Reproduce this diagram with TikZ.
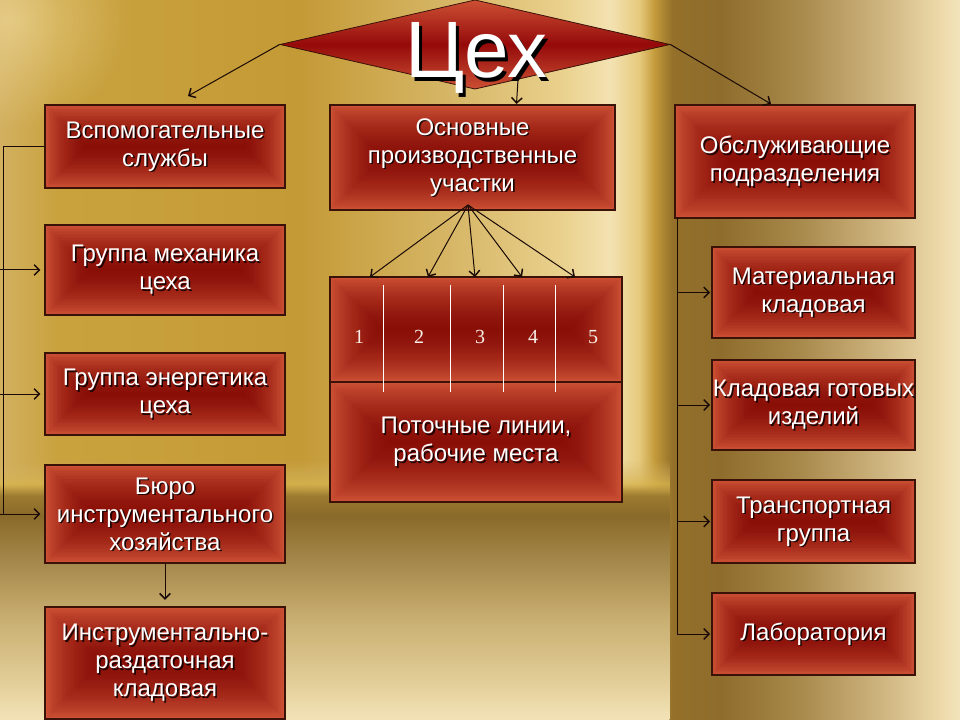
\documentclass[tikz,border=0pt]{standalone}
\usepackage{fontspec}
\setmainfont{Liberation Sans}
\newfontfamily\serifnum{Liberation Serif}
\usetikzlibrary{arrows.meta,fit,fadings,shapes.geometric,calc}

\definecolor{h0}{HTML}{D2B060}
\definecolor{h1}{HTML}{C9A23E}
\definecolor{h2}{HTML}{C49A36}
\definecolor{h3}{HTML}{D6B666}
\definecolor{h4}{HTML}{E9D08C}
\definecolor{h5}{HTML}{F3E2B2}
\definecolor{h6}{HTML}{E6C97C}
\definecolor{h7}{HTML}{C39A3A}
\definecolor{h8}{HTML}{94702A}
\definecolor{h9}{HTML}{8E6C2C}
\definecolor{h10}{HTML}{A88A4C}
\definecolor{h11}{HTML}{CDB37E}
\definecolor{h12}{HTML}{EDDAAA}
\definecolor{h13}{HTML}{F3E4BC}
\definecolor{v0}{HTML}{F2E3B8}
\definecolor{v1}{HTML}{E6D29E}
\definecolor{v2}{HTML}{C8AE70}
\definecolor{v3}{HTML}{A28548}
\definecolor{v4}{HTML}{8A6A2A}
\definecolor{v5}{HTML}{9C7A30}
\definecolor{v6}{HTML}{D8B550}
\definecolor{v7}{HTML}{D4B462}
\definecolor{boxedge}{HTML}{CC5034}
\definecolor{boxdark}{HTML}{7A0000}
\definecolor{diadark}{HTML}{950A0A}
\definecolor{boxline}{HTML}{3A1208}
\definecolor{conncol}{HTML}{1A0A05}
\definecolor{glow}{HTML}{F2DDA0}
\definecolor{numcol}{HTML}{F8EEE6}

\pgfdeclarehorizontalshading{bgh}{100bp}{color(0bp)=(h0); color(25bp)=(h0); color(28bp)=(h1); color(40.6bp)=(h2); color(48.4bp)=(h3); color(54.2bp)=(h4); color(56.8bp)=(h5); color(58.3bp)=(h6); color(59.1bp)=(h7); color(60bp)=(h8); color(62.5bp)=(h9); color(66.7bp)=(h10); color(70.8bp)=(h11); color(74bp)=(h12); color(75bp)=(h13); color(100bp)=(h13)}
\pgfdeclareverticalshading{bgv}{100bp}{color(0bp)=(v0); color(25bp)=(v0); color(30.9bp)=(v1); color(44.6bp)=(v2); color(56.4bp)=(v3); color(64.2bp)=(v4); color(68.1bp)=(v5); color(70.5bp)=(v6); color(73bp)=(v7); color(75bp)=(v7); color(100bp)=(v7)}
\pgfdeclareverticalshading{bfadeshade}{100bp}{color(0bp)=(white); color(69bp)=(white); color(75bp)=(black); color(100bp)=(black)}
\pgfdeclarefading{bfade}{\pgfuseshading{bfadeshade}}
\tikzfading[name=softglow, inner color=transparent!0, outer color=transparent!100]

\tikzset{
  rbox/.style={draw=boxline, line width=0.8pt, fill=boxedge, inner sep=0pt,
    path picture={\foreach \i in {1,...,30}{\fill[boxdark, opacity=0.045]
      ([shift={(\i*#1,-\i*#1)}]path picture bounding box.north west) rectangle
      ([shift={(-\i*#1,\i*#1)}]path picture bounding box.south east);}}},
  btxt/.style={text=white, font=\fontsize{18}{21}\selectfont, align=center, inner sep=0pt},
  bshadow/.style={btxt, text=black, opacity=0.8},
  conn/.style={draw=conncol, line width=0.75pt},
  arr/.style={conn, -{Straight Barb[length=4pt,width=8pt,line width=1.1pt]}},
  numst/.style={text=numcol, font=\serifnum\fontsize{15}{15}\selectfont, inner sep=0pt},
  sepline/.style={draw=white, line width=0.7pt}
}

\newcommand\mkbox[6]{%
  \pgfmathsetmacro\bst{(#5-#3)*0.75/61}%
  \node[rbox=\bst pt, fit={(#2,#3) (#4,#5)}] (#1) {};
  \node[bshadow] at ([shift={(1.2pt,-1.2pt)}]#1.center) {#6};
  \node[btxt] at (#1.center) {#6};
}

\begin{document}
\begin{tikzpicture}[x=0.75pt,y=-0.75pt]
\useasboundingbox (0,0) rectangle (960,720);
% background
\shade[shading=bgh] (0,0) rectangle (960,720);
\fill[glow, opacity=0.6, path fading=softglow] (10,20) ellipse (120 and 110);
\shade[shading=bgv, path fading=bfade, fit fading=true] (0,460) rectangle (670,720);

% diamond
\node[diamond, draw=boxline, line width=0.6pt, inner sep=0pt, minimum width=292.5pt, minimum height=67pt,
  top color=boxedge, bottom color=boxedge, middle color=diadark] (cex) at (475,44.5) {};
\node[font=\fontsize{60}{60}\selectfont, text=black, anchor=base, inner sep=0pt] at (479.5,81.5) {Цех};
\node[font=\fontsize{60}{60}\selectfont, text=white, anchor=base, inner sep=0pt] (cext) at (476,78) {Цех};

% left column
\mkbox{vs}{45}{105}{285}{188}{Вспомогательные\\службы}
\mkbox{mech}{45}{225}{285}{315}{Группа механика\\цеха}
\mkbox{en}{45}{353}{285}{435}{Группа энергетика\\цеха}
\mkbox{bur}{45}{465}{285}{563}{Бюро\\инструментального\\хозяйства}
\mkbox{ir}{45}{607}{285}{719}{Инструментально-\\раздаточная\\кладовая}

% middle column
\mkbox{osn}{330}{105}{615}{210}{Основные\\производственные\\участки}
\mkbox{lines}{330}{277}{622}{382}{}
\mkbox{places}{330}{382}{622}{502}{Поточные линии,\\рабочие места}
\draw[sepline] (383,285) -- (383,392);
\draw[sepline] (450,285) -- (450,392);
\draw[sepline] (503,285) -- (503,392);
\draw[sepline] (555,285) -- (555,392);
\node[numst, anchor=base] (n1) at (359,344) {1};
\node[numst, anchor=base] (n2) at (419,344) {2};
\node[numst, anchor=base] (n3) at (480,344) {3};
\node[numst, anchor=base] (n4) at (533,344) {4};
\node[numst, anchor=base] (n5) at (593,344) {5};

% right column
\mkbox{obs}{675}{105}{915}{218}{Обслуживающие\\подразделения}
\mkbox{mat}{712}{247}{915}{338}{Материальная\\кладовая}
\mkbox{klad}{712}{360}{915}{450}{Кладовая готовых\\изделий}
\mkbox{tr}{712}{480}{915}{563}{Транспортная\\группа}
\mkbox{lab}{712}{593}{915}{675}{Лаборатория}

% connectors from diamond
\coordinate (a1) at (188,96);
\coordinate (a2) at (771,104);
\coordinate (a3s) at ($(cex.south)!0.22!(cex.east)$);
\coordinate (a3) at (516.5,104);
\draw[arr] (cex.west) -- (a1);
\draw[arr] (cex.east) -- (a2);
\draw[arr] (a3s) -- (a3);

% left bus
\coordinate (lb1) at (3,146.5);
\coordinate (lb2) at (3,514);
\coordinate (l2) at (0,270);
\coordinate (l3) at (0,394);
\coordinate (l4) at (0,514);
\draw[conn] (vs.west) -- (lb1) -- (lb2);
\draw[arr] (l2) -- ([xshift=-3pt]mech.west);
\draw[arr] (l3) -- ([xshift=-3pt]en.west);
\draw[arr] (l4) -- ([xshift=-3pt]bur.west);
\draw[arr] (bur.south) -- ([yshift=5pt]ir.north);

% fan
\coordinate (fo) at (468,205);
\coordinate (t1) at (370,277);
\coordinate (t2) at (428,277);
\coordinate (t3) at (475,277);
\coordinate (t4) at (522,277);
\coordinate (t5) at (575,277);
\foreach \t in {t1,t2,t3,t4,t5} \draw[arr] (fo) -- (\t);

% right bus
\coordinate (rb1) at (677,218);
\coordinate (rb2) at (677,634);
\coordinate (r1) at (677,292.5);
\coordinate (r2) at (677,405);
\coordinate (r3) at (677,521.5);
\draw[conn] (rb1) -- (rb2);
\draw[arr] (r1) -- ([xshift=-1pt]mat.west);
\draw[arr] (r2) -- ([xshift=-1pt]klad.west);
\draw[arr] (r3) -- ([xshift=-1pt]tr.west);
\draw[arr] (rb2) -- ([xshift=-1pt]lab.west);
\end{tikzpicture}
\end{document}
